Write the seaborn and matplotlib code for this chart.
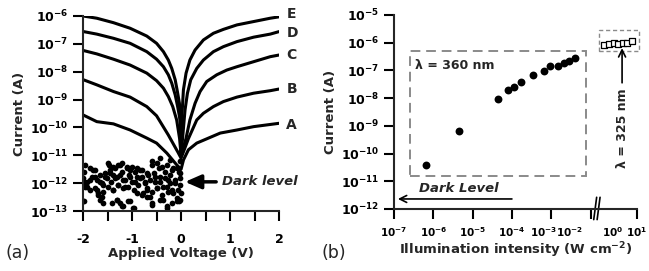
import numpy as np
import pandas as pd
import matplotlib
matplotlib.use('Agg')
import matplotlib.pyplot as plt
import matplotlib.transforms as mtransforms
from matplotlib.patches import Rectangle
import seaborn as sns

# ---- (a) I-V curves: voltage (V) and log10(current / A)
v_E = [-2.0, -1.72, -1.38, -1.04, -0.70, -0.50, -0.36, -0.26, -0.19, -0.12, -0.075, -0.034, -0.01, 0.0,
       0.02, 0.048, 0.102, 0.18, 0.286, 0.456, 0.66, 0.864, 1.14, 1.48, 1.82, 2.0]
l_E = [-6.0, -6.08, -6.24, -6.44, -6.72, -6.98, -7.28, -7.58, -7.88, -8.29, -8.71, -9.13, -10.0, -11.0,
       -9.5, -8.65, -8.05, -7.58, -7.22, -6.86, -6.62, -6.48, -6.32, -6.20, -6.08, -6.03]
v_D = [-1.99, -1.72, -1.38, -1.04, -0.70, -0.50, -0.36, -0.26, -0.19, -0.12, -0.07, -0.02, 0.0,
       0.04, 0.081, 0.13, 0.197, 0.32, 0.456, 0.66, 0.864, 1.14, 1.48, 1.82, 2.0]
l_D = [-6.56, -6.65, -6.80, -6.98, -7.28, -7.55, -7.82, -8.11, -8.41, -8.83, -9.25, -9.73, -11.0,
       -10.2, -9.37, -8.77, -8.29, -7.88, -7.58, -7.28, -7.10, -6.92, -6.76, -6.65, -6.56]
v_C = [-1.99, -1.72, -1.38, -1.04, -0.70, -0.50, -0.36, -0.26, -0.17, -0.09, -0.03, 0.0,
       0.1, 0.18, 0.286, 0.388, 0.524, 0.728, 0.932, 1.14, 1.48, 1.82, 2.0]
l_C = [-7.24, -7.36, -7.55, -7.76, -8.05, -8.32, -8.59, -8.89, -9.25, -9.73, -10.4, -11.0,
       -10.4, -9.73, -9.13, -8.71, -8.35, -8.11, -7.94, -7.82, -7.64, -7.46, -7.40]
v_B = [-1.99, -1.72, -1.38, -1.04, -0.70, -0.50, -0.26, -0.06, 0.0,
       0.15, 0.32, 0.456, 0.66, 0.864, 1.14, 1.48, 1.82, 2.0]
l_B = [-8.29, -8.47, -8.71, -8.91, -9.25, -9.58, -10.27, -10.9, -11.1,
       -10.4, -9.73, -9.49, -9.25, -9.07, -8.91, -8.77, -8.68, -8.62]
v_A = [-2.0, -1.72, -1.38, -1.04, -0.7, -0.5, -0.29, -0.09, 0.0, 0.05, 0.15, 0.32, 0.8, 1.14, 1.48, 2.0]
l_A = [-9.55, -9.79, -9.87, -10.09, -10.38, -10.56, -10.92, -11.34, -11.5, -11.16, -10.8, -10.56, -10.20, -10.09, -9.97, -9.85]
curve_names = ['E', 'D', 'C', 'B', 'A']
label_logI = [-5.93, -6.61, -7.40, -8.62, -9.91]

# dark current cloud (V, log10 A)
v_dark = [-1.99, -1.98, -1.925, -1.86, -1.79, -1.755, -1.72, -1.69, -1.65, -1.62, -1.59, -1.55, -1.52,
          -1.48, -1.45, -1.42, -1.38, -1.38, -1.35, -1.31, -1.28, -1.24, -1.21, -1.18, -1.14, -1.11,
          -1.07, -1.04, -1.01, -0.97, -0.94, -0.90, -0.87, -0.84, -0.80, -0.77, -0.73, -0.70, -0.67,
          -0.63, -0.60, -0.56, -0.53, -0.50, -0.46, -0.43, -0.39, -0.36, -0.33, -0.29, -0.26, -0.22,
          -0.19, -0.16, -0.12, -0.09, -0.05, -0.02, -0.01,
          -1.99, -1.59, -1.31, -1.18, -0.97, -1.24, -1.04, -0.60, -0.29, -0.05,
          -1.959, -1.857, -1.755, -1.653, -1.483, -1.381, -1.279, -1.211, -1.109, -1.007, -0.905, -0.803,
          -0.701, -0.599, -0.497, -0.395, -0.293, -0.190, -0.088, -0.020, -0.429, -0.224, -0.020,
          -1.993, -1.925, -1.823, -1.721, -1.619, -1.551, -1.449, -1.347, -1.245, -1.143, -1.041, -0.939,
          -0.837, -0.735, -0.633, -0.531, -0.429, -0.327, -0.224, -0.122, -0.020,
          -1.959, -1.857, -1.755, -1.687, -1.585, -1.483, -1.381, -1.279, -1.177, -1.075, -0.905, -0.803,
          -0.701, -0.599, -0.497, -0.361, -0.259, -0.156, -0.054,
          -1.993, -1.653, -1.415, -1.313, -1.211, -1.075, -0.973, -0.701, -0.599, -0.429, -0.293, -0.190,
          -0.088, -0.020]
l_dark = [-11.58, -11.94, -12.12, -11.88, -11.52, -11.76, -12.24, -12.42, -11.94, -12.48, -12.06, -11.64, -11.82,
          -11.34, -11.52, -11.94, -11.70, -12.24, -11.46, -11.76, -12.06, -11.34, -11.58, -11.88, -12.12, -11.46,
          -11.70, -11.52, -11.94, -12.24, -11.58, -11.76, -12.06, -11.52, -11.76, -12.36, -11.94, -12.18, -11.70,
          -12.48, -11.22, -11.64, -11.94, -12.18, -11.46, -11.76, -12.42, -12.59, -11.58, -12.12, -11.88, -11.70,
          -12.24, -11.46, -12.00, -12.54, -11.58, -11.82, -12.36,
          -12.65, -12.71, -12.59, -12.83, -12.89, -12.71, -12.65, -12.77, -12.89, -12.65,
          -11.34, -11.46, -11.52, -11.70, -11.28, -11.40, -11.34, -11.28, -11.40, -11.40, -11.46, -11.52,
          -11.64, -11.34, -11.28, -11.40, -11.34, -11.52, -11.46, -11.64, -11.10, -11.16, -11.22,
          -11.82, -11.94, -11.76, -11.88, -12.00, -11.76, -11.64, -11.82, -11.70, -11.88, -11.76, -11.94,
          -11.82, -12.00, -11.88, -11.76, -11.94, -11.82, -12.00, -11.88, -12.06,
          -12.12, -12.24, -12.18, -12.36, -12.30, -12.12, -12.24, -12.06, -12.18, -12.12, -12.36, -12.42,
          -12.24, -12.30, -12.18, -12.12, -12.30, -12.36, -12.24,
          -12.65, -12.60, -12.71, -12.60, -12.83, -12.65, -12.89, -12.48, -12.71, -12.60, -12.83, -12.71,
          -12.65, -12.60]

# ---- (b) photocurrent vs illumination intensity (W cm^-2, A)
int_360 = [6.5e-7, 4.4e-6, 4.3e-5, 7.8e-5, 1.1e-4, 1.7e-4, 3.5e-4, 6.6e-4, 9.5e-4, 1.45e-3, 2.1e-3, 2.8e-3, 3.9e-3]
cur_360 = [3.8e-11, 6.5e-10, 9.3e-9, 1.95e-8, 2.45e-8, 3.9e-8, 6.6e-8, 9.5e-8, 1.4e-7, 1.45e-7, 1.8e-7, 2.2e-7, 2.9e-7]
int_325 = [0.47, 0.77, 1.19, 1.78, 2.8, 4.1, 6.2]
cur_325 = [8.3e-7, 8.9e-7, 1.0e-6, 8.9e-7, 9.5e-7, 1.0e-6, 1.12e-6]
box_360_x = [2.6e-7, 7.6e-3]
box_360_y = [1.6e-11, 5.1e-7]
box_325_x = [0.3, 12.5]
box_325_y = [4.8e-7, 2.9e-6]

sns.set_style('ticks')
plt.rcParams.update({
    'font.family': 'DejaVu Sans', 'font.weight': 'bold', 'axes.labelweight': 'bold',
    'mathtext.fontset': 'custom', 'mathtext.rm': 'DejaVu Sans:bold',
    'mathtext.it': 'DejaVu Sans:bold:italic', 'mathtext.bf': 'DejaVu Sans:bold',
    'axes.unicode_minus': False, 'axes.linewidth': 1.5,
    'xtick.major.size': 7.5, 'ytick.major.size': 7, 'xtick.minor.size': 7.5,
    'xtick.major.width': 1.5, 'ytick.major.width': 1.5, 'xtick.minor.width': 1.5,
    'xtick.labelsize': 9, 'ytick.labelsize': 9, 'axes.labelsize': 9.5,
    'xtick.color': 'black', 'ytick.color': 'black',
})

fig = plt.figure(figsize=(6.49, 2.71), dpi=100)
ax1 = fig.add_axes([0.128, 0.221, 0.302, 0.72])
ax2 = fig.add_axes([0.607, 0.229, 0.3745, 0.716])

# ---------------- panel (a)
ax1.set_yscale('log')
frames = []
for name, v, l in zip(curve_names, [v_E, v_D, v_C, v_B, v_A], [l_E, l_D, l_C, l_B, l_A]):
    frames.append(pd.DataFrame({'V': v, 'I': 10.0 ** np.array(l), 'curve': name}))
df_iv = pd.concat(frames, ignore_index=True)
sns.lineplot(data=df_iv, x='V', y='I', units='curve', estimator=None, sort=False,
             color='black', lw=2.2, ax=ax1)
sns.scatterplot(x=v_dark, y=10.0 ** np.array(l_dark), color='black', s=17, linewidth=0, ax=ax1)

for name, li in zip(curve_names, label_logI):
    ax1.text(2.15, 10 ** li, name, ha='left', va='center', fontsize=10, fontweight='bold')

ax1.annotate('Dark level', xy=(0.08, 10 ** -11.95), xytext=(0.84, 10 ** -11.95),
             ha='left', va='center', style='italic', fontweight='bold', fontsize=9.5,
             arrowprops=dict(arrowstyle='-|>,head_length=0.8,head_width=0.35', color='k',
                             lw=2.5, mutation_scale=12, shrinkA=2, shrinkB=0))

ax1.set_xlim(-2, 2)
ax1.set_ylim(1e-13, 1e-6)
ax1.set_xticks([-2, -1, 0, 1, 2])
ax1.set_xticks([-1.5, -0.5, 0.5, 1.5], minor=True)
ax1.set_yticks([10.0 ** k for k in range(-13, -5)])
ax1.yaxis.set_minor_locator(matplotlib.ticker.NullLocator())
ax1.tick_params(axis='x', pad=8)
ax1.set_xlabel('Applied Voltage (V)', labelpad=1)
ax1.set_ylabel('Current (A)', labelpad=3)
sns.despine(ax=ax1)

# ---------------- panel (b), broken log axis
def fwd(x):
    lx = np.log10(np.clip(np.asarray(x, dtype=float), 1e-300, None))
    return np.where(lx <= -1.86, lx, np.where(lx < -0.65, -1.86, -1.45 + 0.63 * lx))

def inv(u):
    u = np.asarray(u, dtype=float)
    return np.where(u <= -1.86, 10.0 ** u, 10.0 ** ((u + 1.45) / 0.63))

ax2.set_xscale('function', functions=(fwd, inv))
ax2.set_yscale('log')
sns.scatterplot(x=int_360, y=cur_360, color='black', s=32, linewidth=0, ax=ax2)
sns.scatterplot(x=int_325, y=cur_325, marker='s', s=14, facecolor='white',
                edgecolor='black', linewidth=0.9, ax=ax2)

ax2.add_patch(Rectangle((box_360_x[0], box_360_y[0]), box_360_x[1] - box_360_x[0],
                        box_360_y[1] - box_360_y[0], fill=False, ec='#8a8a8a', lw=1.4,
                        ls=(0, (5, 3))))
ax2.add_patch(Rectangle((box_325_x[0], box_325_y[0]), box_325_x[1] - box_325_x[0],
                        box_325_y[1] - box_325_y[0], fill=False, ec='#8a8a8a', lw=1.0,
                        ls=(0, (3, 2)), clip_on=False))

ax2.text(10 ** -6.47, 10 ** -6.81, 'λ = 360 nm', ha='left', va='center', fontsize=9, fontweight='bold')
ax2.text(2.5, 10 ** -9.1, 'λ = 325 nm', rotation=90, ha='center', va='center', fontsize=9,
         fontweight='bold')
ax2.annotate('', xy=(2.5, 10 ** -6.2), xytext=(2.5, 10 ** -7.45),
             arrowprops=dict(arrowstyle='->,head_length=0.5,head_width=0.25', lw=1.2, color='k',
                             shrinkA=0, shrinkB=0))
ax2.text(10 ** -5.35, 10 ** -11.28, 'Dark Level', ha='center', va='center', style='italic',
         fontweight='bold', fontsize=9.5)
ax2.annotate('', xy=(10 ** -6.9, 10 ** -11.64), xytext=(10 ** -4.0, 10 ** -11.64),
             arrowprops=dict(arrowstyle='->,head_length=0.5,head_width=0.25', lw=1.2, color='k',
                             shrinkA=0, shrinkB=0))

ax2.set_xlim(1e-7, 10)
ax2.set_ylim(1e-12, 1e-5)
xt = [1e-7, 1e-6, 1e-5, 1e-4, 1e-3, 1e-2, 1, 10]
xt_labels = ['$10^{-7}$', '$10^{-6}$', '$10^{-5}$', '$10^{-4}$', '$10^{-3}$', '$10^{-2}$', '$10^{0}$', '$10^{1}$']
ax2.set_xticks(xt, labels=xt_labels)
ax2.xaxis.set_minor_locator(matplotlib.ticker.NullLocator())
ax2.set_yticks([10.0 ** k for k in range(-12, -4)])
ax2.yaxis.set_minor_locator(matplotlib.ticker.NullLocator())
ax2.tick_params(axis='x', pad=4, labelsize=7.5)
ax2.xaxis.get_major_ticks()[6].tick1line.set_visible(False)
# crowded labels near the break: nudge 10^-3 and 10^-2 to the left
for i, dx in ((4, -0.08), (5, -0.21)):
    lab = ax2.get_xticklabels()[i]
    lab.set_transform(lab.get_transform() + mtransforms.ScaledTranslation(dx, 0, fig.dpi_scale_trans))
ax2.set_xlabel('Illumination intensity (W cm$^{-2}$)', labelpad=1)
ax2.set_ylabel('Current (A)', labelpad=3)
sns.despine(ax=ax2)

# axis break marks
for dx in (0.0, 0.014):
    ax2.plot([0.822 + dx, 0.834 + dx], [-0.055, 0.06], transform=ax2.transAxes, color='k',
             lw=1.2, clip_on=False)

fig.text(0.008, 0.066, '(a)', fontsize=12.5, fontweight='normal', va='center', ha='left')
fig.text(0.496, 0.066, '(b)', fontsize=12.5, fontweight='normal', va='center', ha='left')

fig.savefig('out.png', dpi=100)
